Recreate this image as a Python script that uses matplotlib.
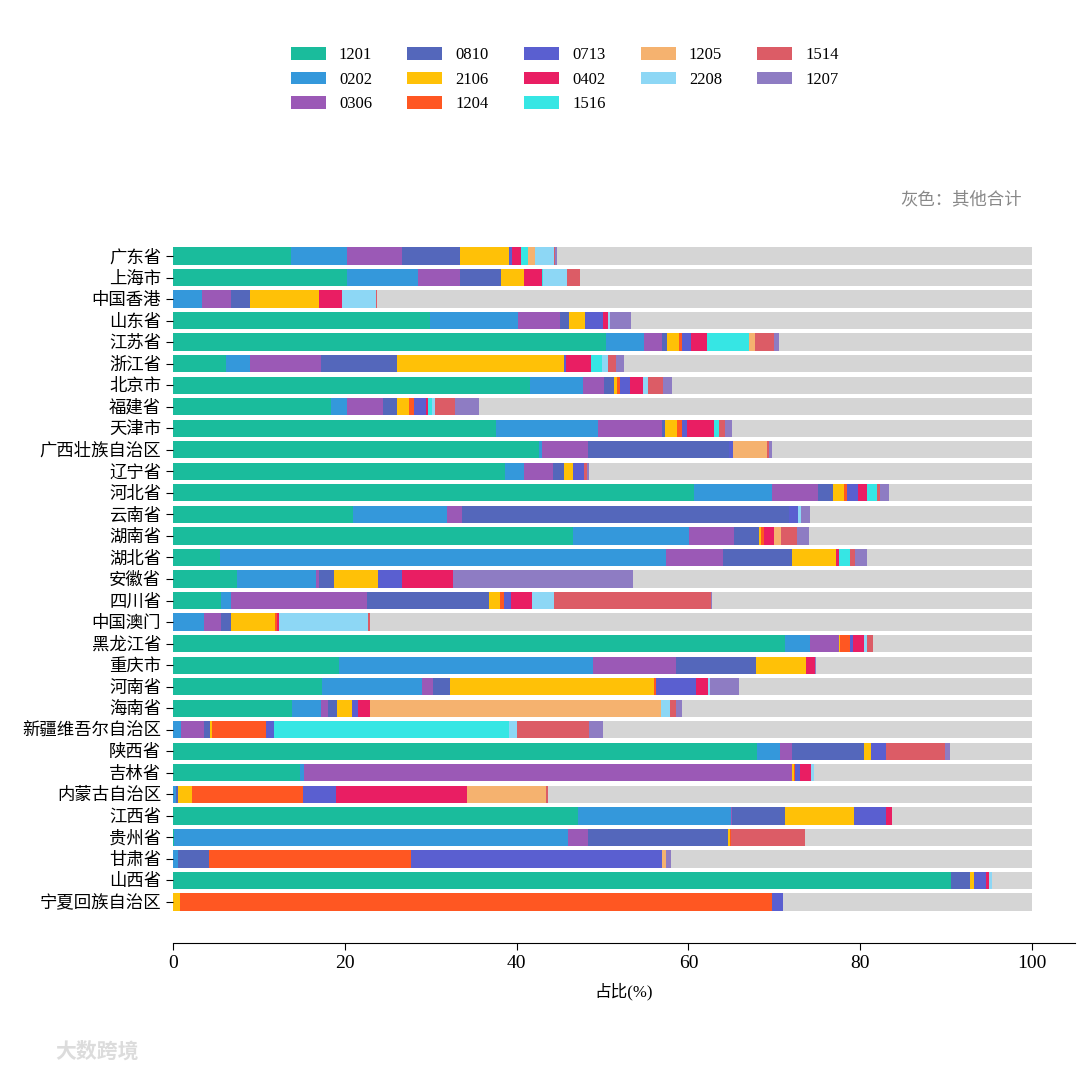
import numpy as np
import matplotlib
matplotlib.use('Agg')
import matplotlib.pyplot as plt

plt.rcParams['font.family'] = ['Liberation Serif', 'Noto Sans CJK SC', 'DejaVu Sans']
plt.rcParams['axes.unicode_minus'] = False

# 省份（自上而下）
provinces = ['广东省', '上海市', '中国香港', '山东省', '江苏省', '浙江省', '北京市', '福建省',
             '天津市', '广西壮族自治区', '辽宁省', '河北省', '云南省', '湖南省', '湖北省', '安徽省',
             '四川省', '中国澳门', '黑龙江省', '重庆市', '河南省', '海南省', '新疆维吾尔自治区',
             '陕西省', '吉林省', '内蒙古自治区', '江西省', '贵州省', '甘肃省', '山西省', '宁夏回族自治区']

# 各类别占比(%)
v1201 = [13.7, 20.2, 0, 29.9, 50.4, 6.2, 41.6, 18.4, 37.6, 42.6, 38.7, 60.7, 21.0, 46.6, 5.5, 7.4,
         5.6, 0, 71.2, 19.3, 17.3, 13.9, 0, 68.0, 14.8, 0, 47.1, 0.1, 0, 90.6, 0]
v0202 = [6.6, 8.3, 3.4, 10.2, 4.4, 2.8, 6.1, 1.8, 11.9, 0.4, 2.1, 9.0, 10.9, 13.5, 51.9, 9.3,
         1.2, 3.6, 3.0, 29.6, 11.7, 3.3, 0.9, 2.7, 0.5, 0.3, 17.9, 45.9, 0.55, 0, 0]
v0306 = [6.3, 4.9, 3.4, 5.0, 2.1, 8.2, 2.5, 4.2, 7.4, 5.3, 3.4, 5.4, 1.7, 5.2, 6.6, 0.3,
         15.8, 2.0, 3.3, 9.7, 1.3, 0.8, 2.7, 1.4, 56.8, 0, 0.1, 2.3, 0, 0, 0]
v0810 = [6.8, 4.8, 2.2, 1.0, 0.6, 8.9, 1.1, 1.7, 0.4, 16.4, 1.3, 1.7, 38.1, 2.9, 8.0, 1.7,
         14.2, 1.2, 0, 9.3, 1.9, 1.1, 0.7, 8.3, 0, 0.25, 6.1, 16.3, 3.65, 2.2, 0]
v2106 = [5.7, 2.7, 8.0, 1.8, 1.4, 19.4, 0.4, 1.4, 1.4, 0, 1.1, 1.3, 0, 0.3, 5.2, 5.2,
         1.3, 5.1, 0.1, 5.8, 23.8, 1.7, 0.2, 0.9, 0.2, 1.65, 8.1, 0.2, 0, 0.4, 0.8]
v1204 = [0, 0, 0, 0, 0.3, 0, 0.3, 0.5, 0.6, 0, 0, 0.3, 0, 0.3, 0, 0,
         0.4, 0.15, 1.2, 0, 0.2, 0, 6.3, 0, 0.1, 12.9, 0, 0.2, 23.5, 0, 68.9]
v0713 = [0.4, 0, 0, 2.2, 1.1, 0.2, 1.2, 1.5, 0.5, 0.5, 1.2, 1.3, 1.1, 0, 0, 2.8,
         0.8, 0, 0.4, 0, 4.7, 0.7, 1.0, 1.7, 0.6, 3.9, 3.7, 0, 29.2, 1.4, 1.3]
v0402 = [1.0, 2.0, 2.7, 0.5, 1.9, 3.0, 1.5, 0.2, 3.2, 0, 0, 1.1, 0, 1.2, 0.3, 5.9,
         2.5, 0.25, 1.2, 1.0, 1.4, 1.4, 0, 0, 1.3, 15.2, 0.7, 0, 0, 0.4, 0]
v1516 = [0.8, 0.2, 0, 0, 4.9, 1.2, 0, 0.5, 0.6, 0, 0, 1.1, 0, 0, 1.3, 0,
         0, 0, 0, 0, 0, 0, 27.3, 0, 0, 0, 0, 0, 0, 0, 0]
v1205 = [0.8, 0, 0, 0, 0.6, 0, 0, 0, 0, 4.0, 0, 0, 0, 0.8, 0, 0,
         0, 0, 0, 0, 0, 33.9, 0, 0, 0, 9.2, 0, 0, 0.5, 0, 0]
v2208 = [2.3, 2.8, 3.9, 0.3, 0, 0.7, 0.6, 0.3, 0, 0, 0, 0, 0.3, 0, 0, 0,
         2.6, 10.4, 0.4, 0, 0.2, 1.1, 0.9, 0, 0.3, 0, 0, 0, 0, 0.3, 0]
v1514 = [0.1, 1.5, 0.2, 0, 2.3, 1.0, 1.7, 2.3, 0.6, 0.2, 0.4, 0.4, 0, 1.8, 0.6, 0,
         18.2, 0.2, 0.7, 0, 0, 0.6, 8.4, 6.9, 0, 0.2, 0, 8.6, 0, 0, 0]
v1207 = [0.2, 0, 0, 2.4, 0.5, 0.9, 1.1, 2.8, 0.9, 0.3, 0.2, 1.0, 1.0, 1.4, 1.4, 20.9,
         0.1, 0, 0, 0.2, 3.4, 0.8, 1.7, 0.6, 0, 0, 0, 0, 0.6, 0, 0]

codes = ['1201', '0202', '0306', '0810', '2106', '1204', '0713',
         '0402', '1516', '1205', '2208', '1514', '1207']
series = [v1201, v0202, v0306, v0810, v2106, v1204, v0713,
          v0402, v1516, v1205, v2208, v1514, v1207]
colors = ['#1abc9c', '#3498db', '#9b59b6', '#5467bb', '#ffc107', '#ff5722', '#5a5fd0',
          '#e91e63', '#36e6e4', '#f5b26f', '#8dd7f5', '#dc5c66', '#8e7cc3']

fig = plt.figure(figsize=(10.8, 10.73), dpi=100)
ax = fig.add_axes([0.1602, 0.1212, 0.8352, 0.6551])

y = np.arange(len(provinces))
left = np.zeros(len(provinces))
for code, vals, c in zip(codes, series, colors):
    vals = np.array(vals)
    ax.barh(y, vals, left=left, height=0.8, color=c, label=code)
    left += vals
# 其他合计
ax.barh(y, 100 - left, left=left, height=0.8, color='#d5d5d5')

ax.set_ylim(len(provinces) - 1 + 1.9, -0.74)
ax.set_xlim(0, 105)
ax.set_yticks(y)
ax.set_yticklabels(provinces, fontsize=12.5)
ax.set_xticks([0, 20, 40, 60, 80, 100])
ax.tick_params(axis='x', labelsize=14, length=5)
ax.tick_params(axis='y', length=5)
ax.set_xlabel('占比(%)', fontsize=12, labelpad=8)
for s in ['top', 'right', 'left']:
    ax.spines[s].set_visible(False)

fig.legend(loc='upper center', bbox_to_anchor=(0.523, 0.970), ncol=5, frameon=False,
           fontsize=12, handlelength=2.1, handleheight=0.8, columnspacing=2.1,
           labelspacing=0.5)

fig.text(1022 / 1080, 1 - 200 / 1073, '灰色：其他合计', fontsize=12.5, color='#888888',
         ha='right', va='center')
fig.text(55 / 1080, 1 - 1052 / 1073, '大数跨境', fontsize=15, color='#dcdcdc',
         ha='left', va='center', fontweight='bold')

plt.savefig('out.png', dpi=100)
